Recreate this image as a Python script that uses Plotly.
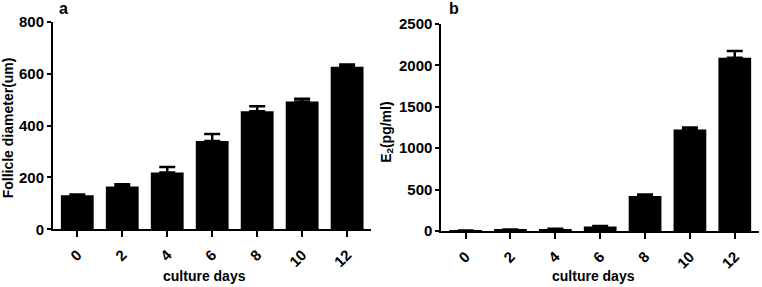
import plotly.graph_objects as go

days = ["0", "2", "4", "6", "8", "10", "12"]
diameter = [131, 165, 219, 341, 456, 493, 627]
diameter_err = [3, 9, 21, 27, 19, 11, 9]
e2 = [4, 15, 22, 55, 423, 1227, 2093]
e2_err = [2, 4, 4, 5, 17, 24, 81]
y1_ticks = [0, 200, 400, 600, 800]
y2_ticks = [0, 500, 1000, 1500, 2000, 2500]

FONT = "Liberation Sans, Arial, sans-serif"
W, H = 762, 287
# plot-area edges in page pixels
LEFT, RIGHT, TOP, BOTTOM = 53.3, 759.3, 22, 230.7
ML, MR, MT, MB = LEFT, W - RIGHT, TOP, H - BOTTOM
PW, PH = W - ML - MR, H - MT - MB

def px_x(x):
    return (x - ML) / PW

def px_y(y):
    return (H - MB - y) / PH

fig = go.Figure()

def add_bar(vals, errs, xa, ya):
    fig.add_trace(go.Bar(
        x=days, y=vals, xaxis=xa, yaxis=ya,
        marker=dict(color="black", line=dict(width=0)),
        error_y=dict(type="data", array=errs, arrayminus=[0] * len(errs),
                     symmetric=False, color="black", thickness=2.5, width=8),
        showlegend=False,
    ))

add_bar(diameter, diameter_err, "x", "y")
add_bar(e2, e2_err, "x2", "y2")

tickfont = dict(family=FONT, size=15, color="black", weight="bold")
common_x = dict(type="category", range=[-0.54, 6.54], showline=True, linecolor="black",
                linewidth=2, ticks="outside", ticklen=6, tickwidth=2, tickcolor="black",
                tickangle=-45, tickfont=tickfont, showgrid=False, zeroline=False,
                ticklabelstandoff=3, fixedrange=True)
common_y = dict(showline=True, linecolor="black", linewidth=2, ticks="outside",
                ticklen=4, tickwidth=2, tickcolor="black", tickfont=tickfont,
                showgrid=False, zeroline=False, ticklabelstandoff=0, fixedrange=True)

fig.update_layout(
    width=W, height=H,
    margin=dict(l=ML, r=MR, t=MT, b=MB),
    paper_bgcolor="white", plot_bgcolor="white",
    bargap=0.27,
    xaxis=dict(domain=[0, px_x(371.7)], anchor="y", **common_x),
    yaxis=dict(domain=[px_y(229), 1], anchor="x", range=[0, 800], tickvals=y1_ticks, **common_y),
    xaxis2=dict(domain=[px_x(441.7), 1], anchor="y2", **common_x),
    yaxis2=dict(domain=[0, px_y(24)], anchor="x2", range=[0, 2500],
                tickvals=y2_ticks, **common_y),
)

titlefont = dict(family=FONT, size=14, color="black", weight="bold")
panelfont = dict(family=FONT, size=16, color="black", weight="bold")
annos = [
    dict(text="a", x=px_x(64), y=px_y(-1), yanchor="top", font=panelfont),
    dict(text="b", x=px_x(454), y=px_y(-1), yanchor="top", font=panelfont),
    dict(text="Follicle diameter(um)", x=px_x(8), y=px_y(127.5), yanchor="middle",
         textangle=-90, font=titlefont),
    dict(text="E<sub>2</sub>(pg/ml)", x=px_x(387), y=px_y(132), yanchor="middle",
         textangle=-90, font=titlefont),
    dict(text="culture days", x=px_x(205), y=px_y(276), yanchor="middle", font=titlefont),
    dict(text="culture days", x=px_x(594), y=px_y(276), yanchor="middle", font=titlefont),
]
for a in annos:
    fig.add_annotation(xref="paper", yref="paper", showarrow=False,
                       xanchor="center", borderpad=0, **a)

fig.write_html("out.html", config={"displayModeBar": False},
               post_script="document.body.style.margin='0';")
